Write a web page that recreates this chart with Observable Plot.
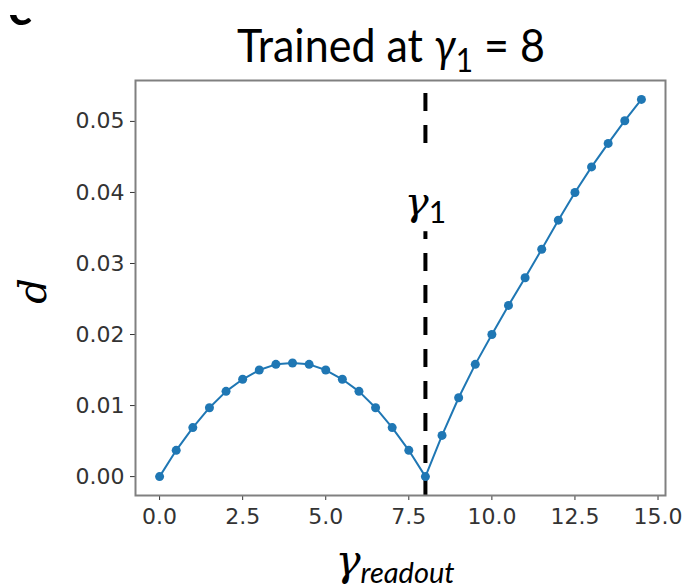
<!DOCTYPE html>
<html><head><meta charset="utf-8">
<script src="https://cdn.jsdelivr.net/npm/d3@7"></script>
<script src="https://cdn.jsdelivr.net/npm/@observablehq/plot@0.6"></script>
<style>body{margin:0;background:#fff}</style>
</head><body><div id="chart"></div>
<script>
// ---- data ----
const gammaReadout = [0,0.5,1,1.5,2,2.5,3,3.5,4,4.5,5,5.5,6,6.5,7,7.5,8,8.5,9,9.5,10,10.5,11,11.5,12,12.5,13,13.5,14,14.5];
const dValues = [0,0.0037,0.0069,0.0097,0.0120,0.0137,0.0150,0.0158,0.0160,0.0158,0.0150,0.0137,0.0120,0.0097,0.0069,0.0037,0,
                 0.0058,0.0111,0.0158,0.0200,0.0241,0.0280,0.0320,0.0361,0.0400,0.0436,0.0469,0.0501,0.0531];
const trainedGamma = [8];
const xTicks = [0,2.5,5,7.5,10,12.5,15];
const yTicks = [0,0.01,0.02,0.03,0.04,0.05];
const xDomain = [-0.725, 15.225];
const yDomain = [-0.00266, 0.05576];
const gammaLabel = [{x: 8, y: 0.0386, label: "γ1"}];

const data = gammaReadout.map((g, i) => ({g, d: dValues[i]}));

const chart = Plot.plot({
  width: 685, height: 588,
  marginLeft: 135, marginRight: 20, marginTop: 80, marginBottom: 93,
  style: {fontFamily: "DejaVu Sans", fontSize: "22px", color: "#333", background: "white", overflow: "visible"},
  x: {domain: xDomain, ticks: xTicks, tickFormat: d3.format(".1f"), label: null, tickSize: 5, tickPadding: 8},
  y: {domain: yDomain, ticks: yTicks, tickFormat: d3.format(".2f"), label: null, tickSize: 5, tickPadding: 6},
  marks: [
    Plot.ruleX(trainedGamma, {x: d => d, y1: yDomain[0], y2: yDomain[1], stroke: "black", strokeWidth: 4, strokeDasharray: "18,14"}),
    Plot.line(data, {x: "g", y: "d", stroke: "#1f77b4", strokeWidth: 2}),
    Plot.dot(data, {x: "g", y: "d", r: 4.5, fill: "#1f77b4"}),
    Plot.text(gammaLabel, {x: "x", y: "y", text: "label", fill: "black", fontSize: 40, fontFamily: "DejaVu Serif"}),
    Plot.frame({stroke: "#808080", strokeWidth: 2})
  ]
});
document.getElementById("chart").appendChild(chart);

const svg = d3.select(chart);

// subscripted annotation with white box behind it
svg.selectAll("text").filter(function(){ return this.textContent === "γ1"; }).each(function(){
  const t = d3.select(this);
  t.text(null);
  t.append("tspan").attr("font-style", "italic").text("γ");
  t.append("tspan").attr("font-size", 30).attr("dy", 8).attr("font-family", "Lato").text("1");
  const b = this.getBBox();
  d3.select(this.parentNode).insert("rect", () => this)
    .attr("transform", this.getAttribute("transform"))
    .attr("x", b.x - 4).attr("y", b.y - 22).attr("width", b.width + 8).attr("height", b.height + 24)
    .attr("fill", "white");
});

// title
const title = svg.append("text").attr("x", 391).attr("y", 62).attr("text-anchor", "middle")
  .attr("font-family", "Lato").attr("font-size", 46).attr("fill", "black");
title.append("tspan").text("Trained at ");
title.append("tspan").attr("font-style", "italic").text("γ");
title.append("tspan").attr("font-size", 32).attr("dy", 10).text("1");
title.append("tspan").attr("dy", -10).text(" = 8");
title.attr("textLength", 308).attr("lengthAdjust", "spacingAndGlyphs");

// y label
svg.append("text").attr("transform", "translate(46,291) rotate(-90)").attr("text-anchor", "middle")
  .attr("font-family", "DejaVu Serif").attr("font-style", "italic").attr("font-size", 40).attr("fill", "black").text("d");

// x label
const xl = svg.append("text").attr("x", 395).attr("y", 575).attr("text-anchor", "middle")
  .attr("font-family", "DejaVu Serif").attr("font-size", 42).attr("fill", "black");
xl.append("tspan").attr("font-style", "italic").text("γ");
xl.append("tspan").attr("font-family", "Lato").attr("font-style", "italic").attr("font-size", 29).attr("dy", 8).text("readout");

// panel letter, only its lower part visible (cropped in the source figure)
const clipBox = svg.append("svg").attr("x", 0).attr("y", 15).attr("width", 60).attr("height", 14).attr("overflow", "hidden");
clipBox.append("text").attr("x", 20).attr("y", 10).attr("text-anchor", "middle")
  .attr("font-family", "Lato").attr("font-weight", "bold").attr("font-size", 50).attr("fill", "black").text("c");
</script>
</body></html>
